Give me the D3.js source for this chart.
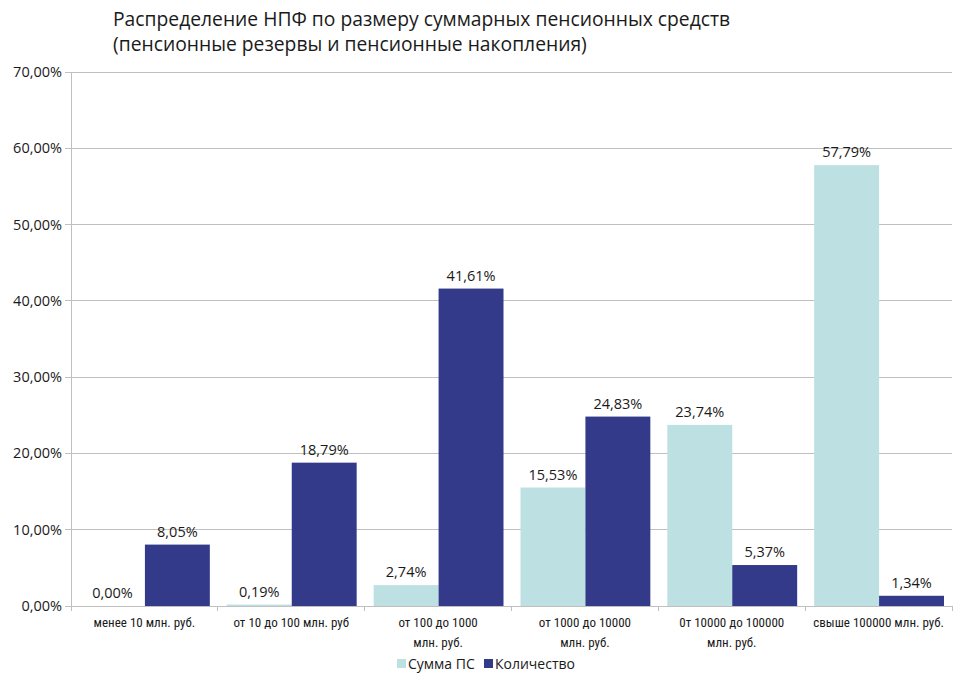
<!DOCTYPE html>
<html><head><meta charset="utf-8">
<script src="https://cdn.jsdelivr.net/npm/d3@7"></script>
<style>
body{margin:0;background:#fff;}
text{font-family:"Open Sans","Noto Sans",sans-serif;fill:#1a1a1a;}
.cat{font-family:"Liberation Sans Narrow","Roboto Condensed","Open Sans",sans-serif;font-stretch:condensed;}
</style></head>
<body>
<svg id="c" width="954" height="682"></svg>
<script>
const categories = [
  ["менее 10 млн. руб."],
  ["от 10 до 100 млн. руб"],
  ["от 100 до 1000", "млн.  руб."],
  ["от 1000 до 10000", "млн. руб."],
  ["0т 10000 до 100000", "млн. руб."],
  ["свыше 100000  млн.  руб."]
];
const seriesNames = ["Сумма ПС", "Количество"];
const sumPS = [0.00, 0.19, 2.74, 15.53, 23.74, 57.79];
const count = [8.05, 18.79, 41.61, 24.83, 5.37, 1.34];
const yTicks = [0, 10, 20, 30, 40, 50, 60, 70];
const titleLines = ["Распределение НПФ по размеру суммарных пенсионных средств", "(пенсионные резервы и пенсионные накопления)"];
const colors = ["#bde0e2", "#333a8a"];

(function(){
const svg = d3.select("#c");
const pLeft = 71, pRight = 952, pTop = 72, pBottom = 606;
const x = d3.scaleBand().domain(d3.range(categories.length)).range([pLeft, pRight]).paddingInner(0).paddingOuter(0);
const x1 = d3.scaleBand().domain([0, 1]).range([9, x.bandwidth() - 8]);
const y = d3.scaleLinear().domain([0, 70]).range([pBottom, pTop]);
const fmt = v => v.toFixed(2).replace(".", ",") + "%";

svg.append("g").selectAll("text").data(titleLines).join("text")
  .attr("x", 113).attr("y", (d, i) => 26 + i * 25)
  .attr("font-size", 19.3).text(d => d);

svg.append("g").selectAll("line").data(yTicks).join("line")
  .attr("x1", pLeft - 6).attr("x2", pRight).attr("y1", d => y(d)).attr("y2", d => y(d))
  .attr("stroke", "#c0c0c0").attr("stroke-width", 1).attr("shape-rendering", "crispEdges");

svg.append("g").selectAll("text").data(yTicks).join("text")
  .attr("x", 62).attr("y", d => y(d) + 5).attr("text-anchor", "end")
  .attr("font-size", 14.5).text(d => fmt(d));

svg.append("line").attr("x1", pLeft).attr("x2", pLeft).attr("y1", pTop).attr("y2", pBottom)
  .attr("stroke", "#c0c0c0").attr("shape-rendering", "crispEdges");

const data = categories.map((c, i) => [sumPS[i], count[i]]);
const g = svg.append("g").selectAll("g").data(data).join("g")
  .attr("transform", (d, i) => `translate(${x(i)},0)`);
g.selectAll("rect").data(d => d).join("rect")
  .attr("x", (d, j) => x1(j)).attr("width", x1.bandwidth())
  .attr("y", d => y(d)).attr("height", d => pBottom - y(d))
  .attr("fill", (d, j) => colors[j]);
g.selectAll("text").data(d => d).join("text")
  .attr("x", (d, j) => x1(j) + x1.bandwidth() / 2)
  .attr("y", d => y(d) - 8).attr("text-anchor", "middle")
  .attr("font-size", 14.5).text(d => fmt(d));

svg.append("line").attr("x1", pLeft).attr("x2", pRight).attr("y1", pBottom).attr("y2", pBottom)
  .attr("stroke", "#c0c0c0").attr("shape-rendering", "crispEdges");
svg.append("g").selectAll("line").data(d3.range(categories.length + 1)).join("line")
  .attr("x1", i => pLeft + i * x.bandwidth()).attr("x2", i => pLeft + i * x.bandwidth())
  .attr("y1", pBottom).attr("y2", pBottom + 5)
  .attr("stroke", "#c0c0c0").attr("shape-rendering", "crispEdges");

const cl = svg.append("g").selectAll("text").data(categories).join("text")
  .attr("class", "cat").attr("text-anchor", "middle").attr("font-size", 13)
  .attr("transform", (d, i) => `translate(${x(i) + x.bandwidth() / 2},627)`);
cl.selectAll("tspan").data(d => d).join("tspan")
  .attr("x", 0).attr("dy", (d, k) => k === 0 ? 0 : 20).text(d => d);

const lg = svg.append("g").attr("transform", "translate(397,669)");
const lx = [0, 87];
seriesNames.forEach((n, i) => {
  lg.append("rect").attr("x", lx[i]).attr("y", -10).attr("width", 9).attr("height", 9).attr("fill", colors[i]);
  lg.append("text").attr("x", lx[i] + 11).attr("y", 0).attr("font-size", 14).text(n);
});
})();
</script>
</body></html>
